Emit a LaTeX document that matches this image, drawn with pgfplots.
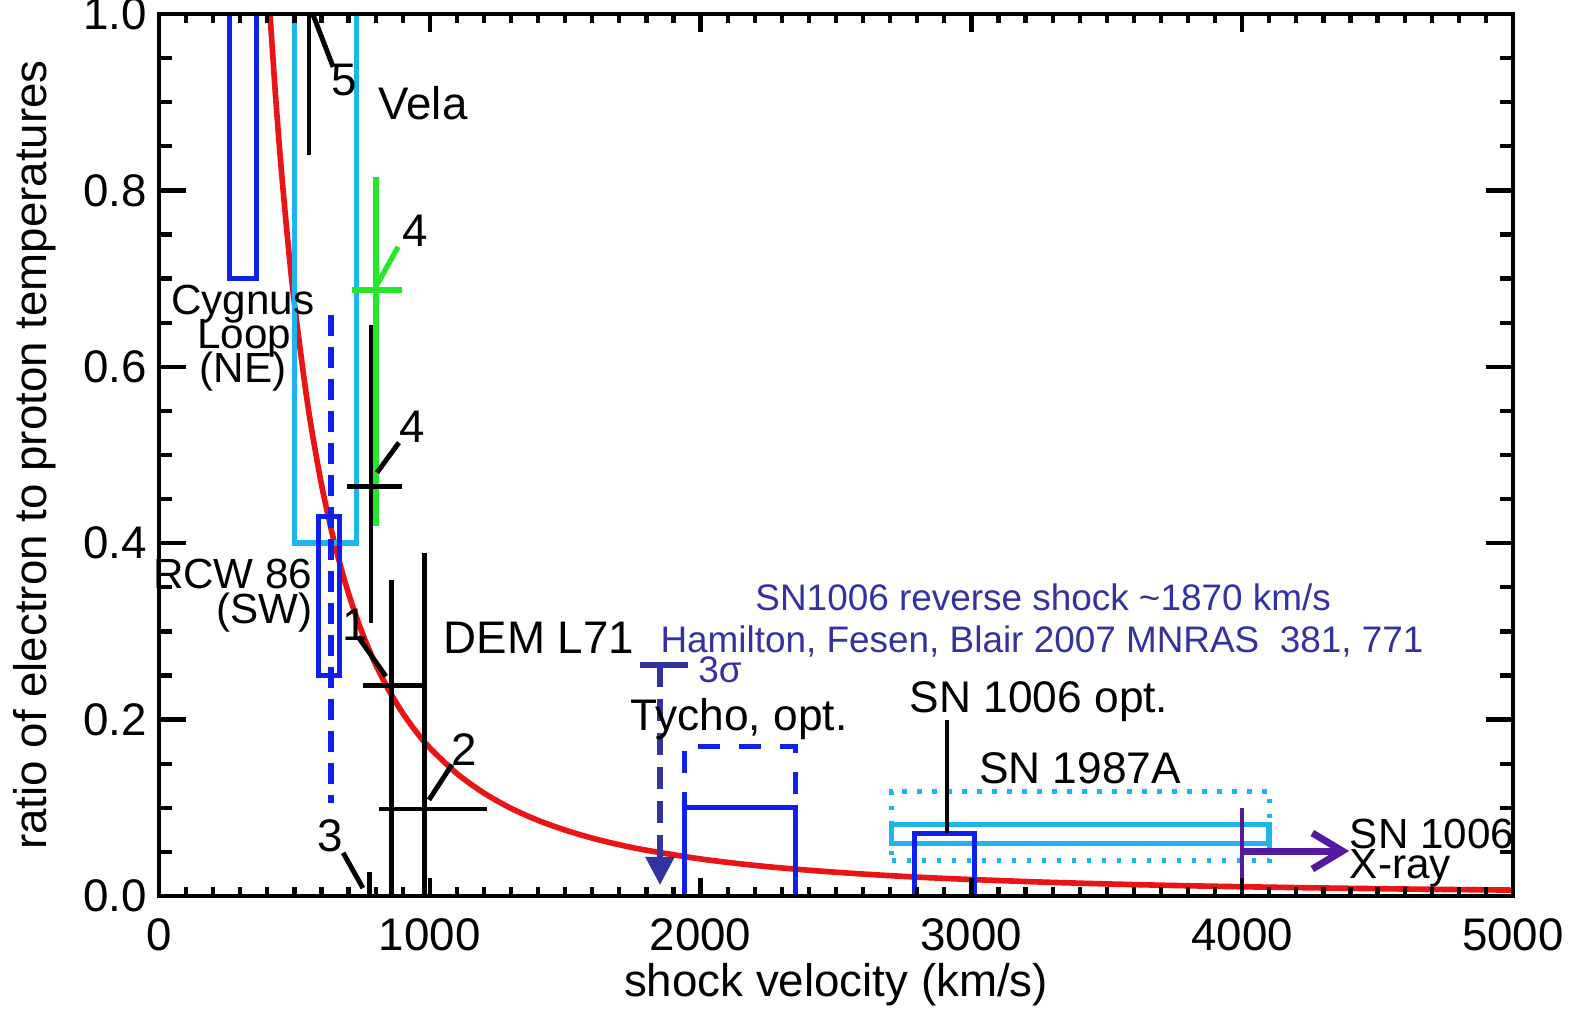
\documentclass[border=0pt]{standalone}
\usepackage{fontspec}
\setmainfont{Liberation Sans}
\usepackage{pgfplots}
\pgfplotsset{compat=1.18}
\usetikzlibrary{calc,arrows.meta}
\definecolor{cblue}{RGB}{16,32,235}
\definecolor{lblue}{RGB}{30,180,240}
\definecolor{navy}{RGB}{50,50,160}
\definecolor{cpurple}{RGB}{85,25,160}
\definecolor{cgreen}{RGB}{40,230,40}
\definecolor{cred}{RGB}{235,20,20}
\newcommand{\fA}{\fontsize{13}{15}\selectfont}
\newcommand{\fD}{\fontsize{12.6}{15}\selectfont}
\newcommand{\fB}{\fontsize{12}{14}\selectfont}
\newcommand{\fC}{\fontsize{10.5}{12}\selectfont}
\begin{document}
\begin{tikzpicture}
\begin{axis}[
  name=ax,
  scale only axis, width=135.4mm, height=88.2mm,
  xmin=0, xmax=5000, ymin=0, ymax=1,
  axis on top, clip=false,
  axis line style={line width=1.4pt},
  xtick={0,1000,2000,3000,4000,5000},
  xticklabels={0,1000,2000,3000,4000,5000},
  ytick={0,0.2,0.4,0.6,0.8,1.0},
  yticklabels={0.0,0.2,0.4,0.6,0.8,1.0},
  minor x tick num=9, minor y tick num=3,
  tick align=inside,
  xtick style={line width=1.2pt, black, /pgfplots/major tick length=1.8mm, /pgfplots/minor tick length=0.9mm},
  ytick style={line width=1.2pt, black, /pgfplots/major tick length=2.7mm, /pgfplots/minor tick length=1.3mm},
  ticklabel style={font=\fA},
  xticklabel style={yshift=-1mm},
  /pgf/number format/assume math mode=true,
  xlabel={shock velocity (km/s)},
  ylabel={ratio of electron to proton temperatures},
  label style={font=\fA},
  xlabel style={at={(axis description cs:0.5,-0.101)}, anchor=center},
  ylabel style={at={(axis description cs:-0.0916,0.5)}, anchor=center},
  every axis plot/.append style={line join=miter},
]
% model curve
\addplot[cred, line width=1.6pt, smooth] coordinates {
(410,1.0) (430,0.9086) (450,0.8296) (475,0.7446) (500,0.672) (550,0.5554)
(600,0.4667) (650,0.3976) (700,0.3429) (750,0.2987) (800,0.2625) (850,0.2325)
(900,0.2074) (950,0.1861) (1000,0.168) (1100,0.1388) (1200,0.1167) (1300,0.0994)
(1400,0.0857) (1500,0.0747) (1600,0.0656) (1700,0.0581) (1800,0.0519) (2000,0.042)
(2200,0.0347) (2400,0.0292) (2600,0.0249) (2800,0.0214) (3000,0.0187) (3250,0.0159)
(3500,0.0137) (3750,0.0119) (4000,0.0105) (4250,0.0093) (4500,0.0083) (4750,0.0074)
(5000,0.0067)};
% Cygnus Loop box
\addplot[cblue, line width=1.4pt] coordinates {(260,1.0) (260,0.70) (360,0.70) (360,1.0)};
% Vela box
\addplot[lblue, line width=1.6pt] coordinates {(500,1.0) (500,0.40) (730,0.40) (730,1.0)};
% RCW 86 box and dashed line
\addplot[cblue, line width=1.4pt] coordinates {(588,0.25) (665,0.25) (665,0.43) (588,0.43)} -- cycle;
\addplot[cblue, line width=1.6pt, dash pattern=on 2.1mm off 1.1mm] coordinates {(634,0.659) (634,0.105)};
% Vela point 5
\addplot[black, line width=1.4pt] coordinates {(554,0.84) (554,1.0)};
\addplot[black, line width=1.4pt] coordinates {(569,0.999) (643,0.940)};
% green 4
\addplot[cgreen, line width=1.5pt] coordinates {(801,0.42) (801,0.815)};
\addplot[cgreen, line width=1.5pt] coordinates {(713,0.687) (897,0.687)};
\addplot[cgreen, line width=1.5pt] coordinates {(805,0.693) (883,0.736)};
% black 4
\addplot[black, line width=1.4pt] coordinates {(783,0.31) (783,0.647)};
\addplot[black, line width=1.4pt] coordinates {(694,0.464) (897,0.464)};
\addplot[black, line width=1.4pt] coordinates {(805,0.480) (886,0.514)};
% 1
\addplot[black, line width=1.4pt] coordinates {(857,0) (857,0.358)};
\addplot[black, line width=1.4pt] coordinates {(753,0.239) (975,0.239)};
\addplot[black, line width=1.4pt] coordinates {(735,0.294) (838,0.249)};
% 2
\addplot[black, line width=1.4pt] coordinates {(982,0) (982,0.389)};
\addplot[black, line width=1.4pt] coordinates {(813,0.0986) (1211,0.0986)};
\addplot[black, line width=1.4pt] coordinates {(997,0.109) (1082,0.149)};
% 3
\addplot[black, line width=1.4pt] coordinates {(776,0) (776,0.027)};
\addplot[black, line width=1.4pt] coordinates {(680,0.049) (753,0.009)};
% SN1006 reverse shock upper limit
\addplot[navy, line width=1.6pt] coordinates {(1776,0.262) (1954,0.262)};
\addplot[navy, line width=1.5pt, dash pattern=on 2.2mm off 1.2mm, -{Triangle[length=2.8mm,width=2.8mm]}] coordinates {(1850,0.262) (1850,0.0125)};
% Tycho
\addplot[cblue, line width=1.4pt] coordinates {(1940,0) (2352,0) (2352,0.10) (1940,0.10)} -- cycle;
\addplot[cblue, line width=1.4pt, dash pattern=on 2.2mm off 1.9mm] coordinates {(1940,0) (1940,0.17) (2352,0.17) (2352,0)};
% SN 1987A
\addplot[lblue, line width=1.4pt, dash pattern=on 0.45mm off 1.05mm] coordinates {(2705,0.040) (4100,0.040) (4100,0.119) (2705,0.119)} -- cycle;
\addplot[lblue, line width=1.6pt] coordinates {(2705,0.0596) (4100,0.0596) (4100,0.081) (2705,0.081)} -- cycle;
% SN 1006 opt
\addplot[cblue, line width=1.4pt] coordinates {(2790,0) (3010,0) (3010,0.071) (2790,0.071)} -- cycle;
\addplot[black, line width=1.4pt] coordinates {(2910,0.071) (2910,0.20)};
% SN 1006 X-ray
\addplot[cpurple, line width=1.1pt] coordinates {(4000,0) (4000,0.10)};
\addplot[cpurple, line width=2.0pt, -{Straight Barb[length=3mm,width=3.6mm]}] coordinates {(4000,0.051) (4395,0.051)};
% labels
\node[anchor=base, inner sep=0, font=\fA] at (axis cs:684,0.908) {5};
\node[anchor=base, inner sep=0, font=\fA] at (axis cs:975,0.880) {Vela};
\node[anchor=base, inner sep=0, font=\fA] at (axis cs:945,0.736) {4};
\node[anchor=base, inner sep=0, font=\fA] at (axis cs:934,0.514) {4};
\node[anchor=base, inner sep=0, font=\fA] at (axis cs:724,0.290) {1};
\node[anchor=base, inner sep=0, font=\fA] at (axis cs:1126,0.1485) {2};
\node[anchor=base, inner sep=0, font=\fA] at (axis cs:632,0.050) {3};
\node[anchor=base, inner sep=0, font=\fB] at (axis cs:310,0.659) {Cygnus};
\node[anchor=base, inner sep=0, font=\fB] at (axis cs:314,0.621) {Loop};
\node[anchor=base, inner sep=0, font=\fB] at (axis cs:310,0.582) {(NE)};
\node[anchor=base east, inner sep=0, font=\fB] at (axis cs:569,0.349) {RCW 86};
\node[anchor=base east, inner sep=0, font=\fB] at (axis cs:569,0.3095) {(SW)};
\node[anchor=base, inner sep=0, font=\fA] at (axis cs:1403,0.2755) {DEM L71};
\node[anchor=base, inner sep=0, font=\fD] at (axis cs:2142,0.188) {Tycho, opt.};
\node[anchor=base, inner sep=0, font=\fC, text=navy] at (axis cs:2072,0.2415) {3σ};
\node[anchor=base, inner sep=0, font=\fD] at (axis cs:3250,0.2075) {SN 1006 opt.};
\node[anchor=base, inner sep=0, font=\fD] at (axis cs:3401,0.128) {SN 1987A};
\node[anchor=base west, inner sep=0, font=\fB] at (axis cs:4395,0.054) {SN 1006};
\node[anchor=base west, inner sep=0, font=\fB] at (axis cs:4395,0.0204) {X-ray};
\node[anchor=base, inner sep=0, font=\fC, text=navy] at (axis cs:3265,0.324) {SN1006 reverse shock \textasciitilde1870 km/s};
\node[anchor=base, inner sep=0, font=\fC, text=navy] at (axis cs:3261,0.2766) {Hamilton, Fesen, Blair 2007 MNRAS\ \ 381, 771};
\end{axis}
\pgfresetboundingbox
\path ($(ax.south west)+(-15.9mm,-12.0mm)$) rectangle ($(ax.north east)+(6.6mm,1.4mm)$);
\end{tikzpicture}
\end{document}
